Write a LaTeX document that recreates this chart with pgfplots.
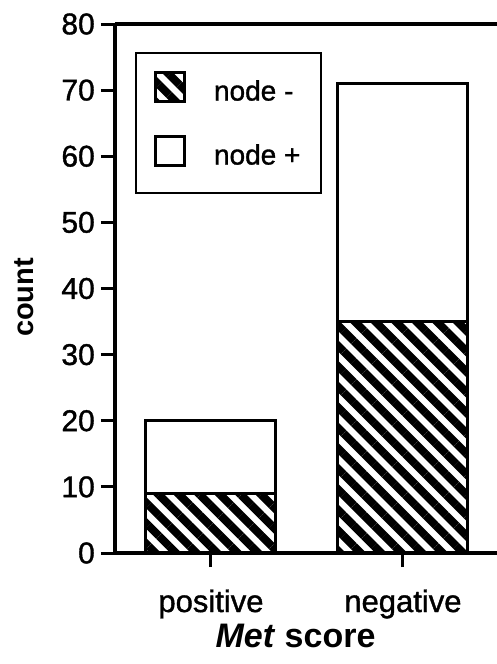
\documentclass[border=0pt]{standalone}
\usepackage{fontspec}
\setmainfont{Liberation Sans}
\newfontfamily\heavyfont{Liberation Sans}[FakeBold=1.2]
\usepackage{pgfplots}
\pgfplotsset{compat=1.18}
\usetikzlibrary{patterns.meta}

% diagonal hatching for the node-negative part of each bar
\tikzset{hatch/.style={pattern={Lines[angle=-45,distance=14.5pt,line width=8pt]},pattern color=black}}

\begin{document}
\begin{tikzpicture}
\begin{axis}[
  at={(0,0)}, anchor=south west,
  scale only axis,
  width=382pt, height=529pt,
  ybar stacked,
  bar width=130pt,
  xmin=0.5, xmax=2.49,
  ymin=0, ymax=80,
  ytick={0,10,...,80},
  xtick={1,2},
  xticklabels={positive,negative},
  axis x line=box,
  axis y line=left,
  axis line style={-, line width=3.5pt},
  every outer x axis line/.append style={-},
  every outer y axis line/.append style={-},
  xtick pos=bottom, ytick pos=left,
  tick align=outside,
  major tick length=14pt,
  tick style={line width=3pt, black},
  /pgf/number format/assume math mode=true,
  ticklabel style={font=\heavyfont\fontsize{30}{33}\selectfont},
  yticklabel style={inner sep=0pt, xshift=-6pt},
  xticklabel style={font=\heavyfont\fontsize{31}{34}\selectfont, anchor=base, yshift=-45pt},
  ylabel={\textbf{count}},
  every axis y label/.style={at={(axis description cs:-0.238,0.483)}, rotate=90, anchor=center, font=\fontsize{29}{32}\selectfont},
  xlabel={\textbf{\textit{Met} score}},
  every axis x label/.style={at={(axis description cs:0.4725,-0.1777)}, anchor=base, font=\fontsize{34}{38}\selectfont},
  legend style={
    at={(axis description cs:0.0524,0.947)}, anchor=north west,
    draw=black, line width=2pt,
    inner xsep=18pt, inner ysep=18pt,
    row sep=24pt,
    font=\heavyfont\fontsize{28}{32}\selectfont,
    nodes={inner sep=0pt, anchor=base west},
    /tikz/every odd column/.append style={column sep=28pt},
  },
  legend cell align=left,
  legendbox/.style={legend image code/.code={
    \path (0pt,-9pt);
    \draw[##1, line width=3pt] (0pt,-1pt) rectangle (29pt,28pt);}},
]
\addplot+[draw=black, line width=3pt, hatch, legendbox] coordinates {(1,9) (2,35)};
\addplot+[draw=black, line width=3pt, fill=white, legendbox] coordinates {(1,11) (2,36)};
\legend{node -\hspace*{3pt}, node +\hspace*{3pt}}
\end{axis}
\pgfresetboundingbox
\useasboundingbox (-115pt,-111pt) rectangle (382pt,553pt);
\end{tikzpicture}
\end{document}
